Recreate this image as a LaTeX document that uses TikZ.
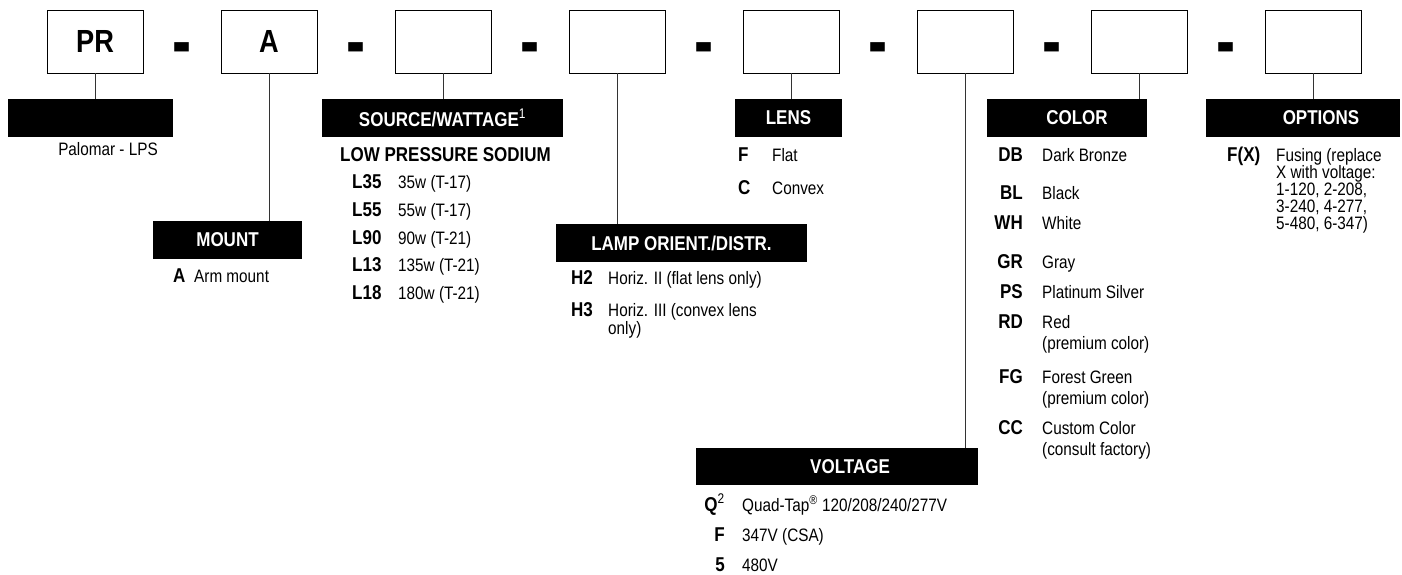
\documentclass[tikz,border=0pt]{standalone}
\usepackage{graphicx}
\usepackage{fontspec}
\setmainfont[FakeStretch=0.85]{Liberation Sans}
\newfontfamily\dashfont{Liberation Sans}

\begin{document}
\begin{tikzpicture}[x=1pt,y=-1pt,
	every node/.style={inner sep=0pt,font=\fontsize{18}{19}\selectfont},
	codebox/.style={draw,line width=0.9pt,minimum width=96pt,minimum height=63pt,font=\fontsize{32}{32}\selectfont\bfseries},
	bar/.style={fill=black,minimum height=38pt},
	ttl/.style={text=white,font=\fontsize{20}{20}\selectfont\bfseries},
	sep/.style={anchor=base,font=\dashfont\fontsize{52}{52}\selectfont\bfseries},
	code/.style={font=\fontsize{20}{20}\selectfont\bfseries},
	stem/.style={line width=0.8pt,black!80}]
	\useasboundingbox (0,0) rectangle (1402,575);

	\node[codebox] (prBox) at (95,41.5) {PR};
	\node[codebox] (mountBox) at (269,41.5) {A};
	\node[codebox] (sourceBox) at (443,41.5) {};
	\node[codebox] (lampBox) at (617,41.5) {};
	\node[codebox] (lensBox) at (791,41.5) {};
	\node[codebox] (voltBox) at (965,41.5) {};
	\node[codebox] (colorBox) at (1139,41.5) {};
	\node[codebox] (optBox) at (1313,41.5) {};

	\node[sep] (dash1) at (182,68) {\scalebox{1.1}[1.5]{-}};
	\node[sep] (dash2) at (356,68) {\scalebox{1.1}[1.5]{-}};
	\node[sep] (dash3) at (530,68) {\scalebox{1.1}[1.5]{-}};
	\node[sep] (dash4) at (704,68) {\scalebox{1.1}[1.5]{-}};
	\node[sep] (dash5) at (878,68) {\scalebox{1.1}[1.5]{-}};
	\node[sep] (dash6) at (1052,68) {\scalebox{1.1}[1.5]{-}};
	\node[sep] (dash7) at (1226,68) {\scalebox{1.1}[1.5]{-}};

	\node[bar,minimum width=165pt] (nameBar) at (90.5,118) {};
	\node[bar,minimum width=149pt,label={[ttl]center:MOUNT}] (mountBar) at (227.5,240) {};
	\node[bar,minimum width=241pt,label={[ttl]center:SOURCE/WATTAGE\textsuperscript{\mdseries 1}}] (sourceBar) at (442.5,118) {};
	\node[bar,minimum width=251pt,label={[ttl]center:LAMP ORIENT./DISTR.}] (lampBar) at (681.5,243) {};
	\node[bar,minimum width=107pt,label={[ttl]center:LENS}] (lensBar) at (788.5,118) {};
	\node[bar,minimum width=282pt,minimum height=37pt,label={[ttl,xshift=13pt]center:VOLTAGE}] (voltBar) at (837,466.5) {};
	\node[bar,minimum width=160pt,label={[ttl,xshift=10pt]center:COLOR}] (colorBar) at (1067,118) {};
	\node[bar,minimum width=194pt,label={[ttl,xshift=18pt]center:OPTIONS}] (optBar) at (1303,118) {};

	\draw[stem] (prBox.south) -- (prBox.south |- nameBar.north);
	\draw[stem] (mountBox.south) -- (mountBox.south |- mountBar.north);
	\draw[stem] (sourceBox.south) -- (sourceBox.south |- sourceBar.north);
	\draw[stem] (lampBox.south) -- (lampBox.south |- lampBar.north);
	\draw[stem] (lensBox.south) -- (lensBox.south |- lensBar.north);
	\draw[stem] (voltBox.south) -- (voltBox.south |- voltBar.north);
	\draw[stem] (colorBox.south) -- (colorBox.south |- colorBar.north);
	\draw[stem] (optBox.south) -- (optBox.south |- optBar.north);

	\node[anchor=base] (palomar) at (108,155) {Palomar - LPS};

	\node[code,anchor=base west] (armCode) at (173,282) {A};
	\node[anchor=base west] (arm) at (194,282) {Arm mount};

	\node[code,anchor=base west] (lps) at (340,161) {LOW PRESSURE SODIUM};
	\node[code,anchor=base west] (l35) at (352,188) {L35};
	\node[anchor=base west] (l35d) at (398,188) {35w (T-17)};
	\node[code,anchor=base west] (l55) at (352,216) {L55};
	\node[anchor=base west] (l55d) at (398,216) {55w (T-17)};
	\node[code,anchor=base west] (l90) at (352,244) {L90};
	\node[anchor=base west] (l90d) at (398,244) {90w (T-21)};
	\node[code,anchor=base west] (l13) at (352,271) {L13};
	\node[anchor=base west] (l13d) at (398,271) {135w (T-21)};
	\node[code,anchor=base west] (l18) at (352,299) {L18};
	\node[anchor=base west] (l18d) at (398,299) {180w (T-21)};

	\node[code,anchor=base west] (h2) at (571,284) {H2};
	\node[anchor=base west] (h2d) at (608,284) {Horiz. II (flat lens only)};
	\node[code,anchor=base west] (h3) at (571,316) {H3};
	\node[anchor=base west,align=left,font=\fontsize{18}{18}\selectfont] (h3d) at (608,334) {Horiz. III (convex lens\\only)};

	\node[code,anchor=base west] (flat) at (738,161) {F};
	\node[anchor=base west] (flatd) at (772,161) {Flat};
	\node[code,anchor=base west] (convex) at (738,194) {C};
	\node[anchor=base west] (convexd) at (772,194) {Convex};

	\node[code,anchor=base east] (q2) at (725,511) {Q\textsuperscript{\mdseries 2}};
	\node[anchor=base west] (q2d) at (742,511) {Quad-Tap\textsuperscript{\textregistered} 120/208/240/277V};
	\node[code,anchor=base east] (v347) at (725,541) {F};
	\node[anchor=base west] (v347d) at (742,541) {347V (CSA)};
	\node[code,anchor=base east] (v480) at (725,571) {5};
	\node[anchor=base west] (v480d) at (742,571) {480V};

	\node[code,anchor=base east] (db) at (1023,161) {DB};
	\node[anchor=base west] (dbd) at (1042,161) {Dark Bronze};
	\node[code,anchor=base east] (bl) at (1023,199) {BL};
	\node[anchor=base west] (bld) at (1042,199) {Black};
	\node[code,anchor=base east] (wh) at (1023,229) {WH};
	\node[anchor=base west] (whd) at (1042,229) {White};
	\node[code,anchor=base east] (gr) at (1023,268) {GR};
	\node[anchor=base west] (grd) at (1042,268) {Gray};
	\node[code,anchor=base east] (ps) at (1023,298) {PS};
	\node[anchor=base west] (psd) at (1042,298) {Platinum Silver};
	\node[code,anchor=base east] (rd) at (1023,328) {RD};
	\node[anchor=base west,align=left,font=\fontsize{18}{21}\selectfont] (rdd) at (1042,349) {Red\\(premium color)};
	\node[code,anchor=base east] (fg) at (1023,383) {FG};
	\node[anchor=base west,align=left,font=\fontsize{18}{21}\selectfont] (fgd) at (1042,404) {Forest Green\\(premium color)};
	\node[code,anchor=base east] (cc) at (1023,434) {CC};
	\node[anchor=base west,align=left,font=\fontsize{18}{21}\selectfont] (ccd) at (1042,455) {Custom Color\\(consult factory)};

	\node[code,anchor=base west] (fx) at (1227,161) {F(X)};
	\node[anchor=base west,align=left,font=\fontsize{18}{17}\selectfont] (fxd) at (1276,229) {Fusing (replace\\X with voltage:\\1-120, 2-208,\\3-240, 4-277,\\5-480, 6-347)};
\end{tikzpicture}
\end{document}
